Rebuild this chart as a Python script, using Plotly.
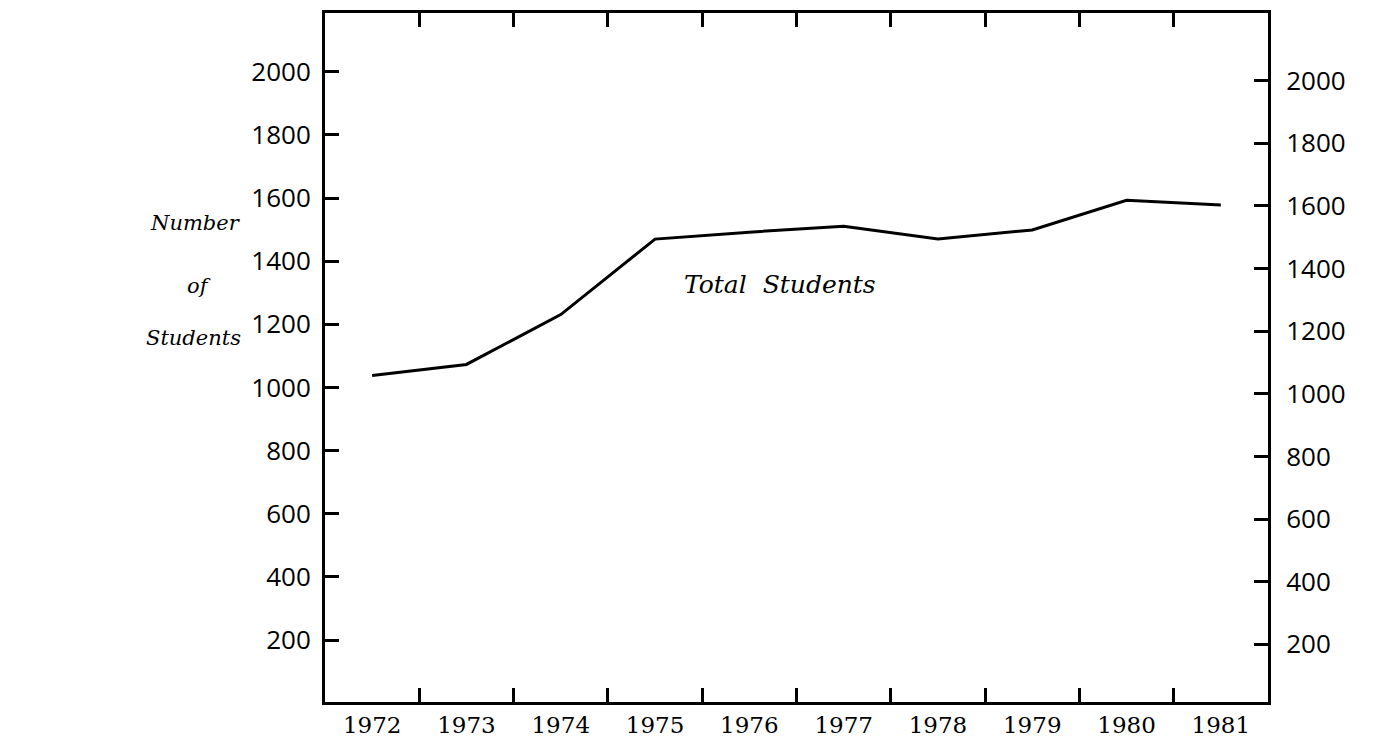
import plotly.graph_objects as go

years = ["1972", "1973", "1974", "1975", "1976", "1977", "1978", "1979", "1980", "1981"]
total_students = [1038, 1073, 1231, 1470, 1492, 1511, 1470, 1499, 1593, 1578]
y_ticks = [200, 400, 600, 800, 1000, 1200, 1400, 1600, 1800, 2000]
y_tick_text = [str(v) for v in y_ticks]

fig = go.Figure()
fig.add_trace(go.Scatter(
    x=years, y=total_students, mode="lines",
    line=dict(color="black", width=3), showlegend=False, hoverinfo="skip",
))
fig.add_trace(go.Scatter(
    x=years, y=total_students, mode="lines", yaxis="y2",
    line=dict(color="rgba(0,0,0,0)", width=0), showlegend=False, hoverinfo="skip",
))

fig.update_layout(
    width=1373, height=739,
    margin=dict(l=317, r=113, t=2, b=45),
    paper_bgcolor="white", plot_bgcolor="white",
    xaxis=dict(
        type="category", range=[-0.5, 9.5], tickson="boundaries",
        ticks="inside", ticklen=14, tickwidth=2.5, tickcolor="black",
        showline=True, linecolor="black", linewidth=3, mirror="ticks",
        showgrid=False, zeroline=False,
        tickfont=dict(family="DejaVu Serif", size=23, color="black"),
    ),
    yaxis=dict(
        range=[4, 2186], tickvals=y_ticks, ticktext=y_tick_text,
        ticks="inside", ticklen=14, tickwidth=3, tickcolor="black",
        showline=True, linecolor="black", linewidth=3,
        showgrid=False, zeroline=False, ticklabelstandoff=6,
        tickfont=dict(family="Open Sans", size=26, color="black"),
    ),
    yaxis2=dict(
        overlaying="y", side="right", range=[16, 2216],
        tickvals=y_ticks, ticktext=y_tick_text,
        ticks="inside", ticklen=14, tickwidth=3, tickcolor="black",
        showline=True, linecolor="black", linewidth=3,
        showgrid=False, zeroline=False, ticklabelstandoff=10,
        tickfont=dict(family="Open Sans", size=26, color="black"),
    ),
    annotations=[
        dict(text="Total  Students", xref="paper", yref="paper", x=0.4825, y=0.6055,
             xanchor="center", yanchor="middle", showarrow=False,
             font=dict(family="DejaVu Serif", size=25, color="black", style="italic")),
        dict(text="Number", xref="paper", yref="paper", x=-0.137, y=0.695,
             xanchor="center", yanchor="middle", showarrow=False,
             font=dict(family="DejaVu Serif", size=21, color="black", style="italic")),
        dict(text="of", xref="paper", yref="paper", x=-0.134, y=0.604,
             xanchor="center", yanchor="middle", showarrow=False,
             font=dict(family="DejaVu Serif", size=21, color="black", style="italic")),
        dict(text="Students", xref="paper", yref="paper", x=-0.139, y=0.529,
             xanchor="center", yanchor="middle", showarrow=False,
             font=dict(family="DejaVu Serif", size=21, color="black", style="italic")),
    ],
)

fig.write_html("out.html")
